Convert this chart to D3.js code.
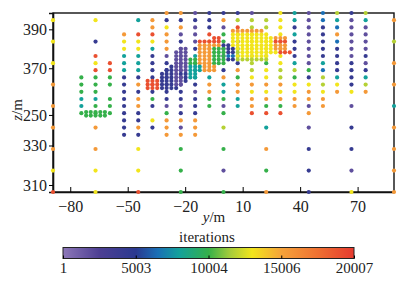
<!DOCTYPE html>
<html>
<head>
<meta charset="utf-8">
<script src="https://cdn.jsdelivr.net/npm/d3@7"></script>
<style>
  body { margin: 0; background: #fff; }
  text { font-family: "Liberation Serif", "DejaVu Serif", serif; fill: #222; }
</style>
</head>
<body>
<div id="chart"></div>
<script>
// search grid: horizontal positions y (m), left to right
const yCols = [-89.0, -81.6, -74.2, -66.8, -59.3, -51.9, -44.5, -37.1, -29.7, -22.3, -14.8, -7.4, 0.0,
               7.4, 14.8, 22.3, 29.7, 37.1, 44.5, 51.9, 59.3, 66.8, 74.2, 81.6, 89.0]
// heights z (m), top to bottom
const zRows = [398.4, 394.7, 391.0, 387.4, 383.7, 380.0, 376.3, 372.6, 369.0, 365.3, 361.6, 357.9, 354.2,
               350.6, 346.9, 343.2, 339.5, 335.8, 332.2, 328.5, 324.8, 321.1, 317.4, 313.8, 310.1, 306.4]
// iteration class of each evaluated grid node, '.' = not evaluated (rows top to bottom)
const gridCodes = [
    "........oopbbbp.Ytplyby..",
    "Y..Y..tobbbboyyyYtpltpt.o",
    ".......oYopbpryyYbpblpp..",
    ".....orropprgoYYYtpbopp..",
    "Y..b.YYYobpogbYYrbpblpp.y",
    ".....YYtopbobgYYobpbbpp..",
    "...r.ttbpptobgyyYbpbbpb..",
    "Y..YrttbbpgogbygYtptbbp.o",
    "...rrttbbptoboyYyyglbbb..",
    "..gggbbbpbttogYYygbytbt..",
    "o.gggborbpbotooooYYyYby.o",
    "..gg.bbbbbpotoYYYYoYoYo..",
    "..ttgbogbbbggtoooooo.....",
    "o.tggbobppbgptoggopo.p..t",
    "..gggbb.gbb.g.rrr.o......",
    ".....bbYooo..............",
    "o..o.bobopo.y..t..p..b..o",
    ".....bb.ooo..............",
    ".........................",
    "o..o..Y..g..g..o..b..b..o",
    ".........................",
    ".........................",
    "Y..Y..Y..g..p..g..b..p..o",
    ".........................",
    ".........................",
    "r..Y..r..g..g..o..b..Y..o"
]

// refined search along the optimum path
const fineY = [-44.5, -42.0, -39.6, -37.1, -34.6, -32.1, -29.7, -27.2, -24.7, -22.3, -19.8, -17.3, -14.8,
               -12.4, -9.9, -7.4, -4.9, -2.5, 0.0, 2.5, 4.9, 7.4, 9.9, 12.4, 14.8, 17.3, 19.8, 22.3,
               24.7, 27.2, 29.7, 32.1, 34.6]
const fineZ = [391.0, 389.2, 387.3, 385.5, 383.7, 381.8, 380.0, 378.2, 376.3, 374.5, 372.6, 370.8, 369.0,
               367.1, 365.3, 363.5, 361.6, 359.8, 357.9]
const fineCodes = [
    ".................................",
    "....................ooooooo......",
    "....................YYYYYYY......",
    "................rr..YYYYYYYYYooo.",
    ".............rrrrr..YYYYYYYYYrrr.",
    ".............ooooobbYYYYYYYYYooo.",
    ".........pp..ooogggbbYYYYYYYYooo.",
    "........ppp..ooogggbbyYYYYYYYYrrr.",
    "........ppp..ooogggllYYYYYYY......",
    "........pppggooogggbbyyyyyyy......",
    "........pppggooogg...............",
    ".......bppptttooo................",
    "......bbppptttooo................",
    ".....bbbpbbtt....................",
    ".....bbbppbtt....................",
    "..rrrbbbppb......................",
    "..rrrbbbpp.......................",
    "..rrrbbbb........................",
    "................................."
]

// small refined patch on the left
const patchY = [-71.7, -69.3, -66.8, -64.3, -61.9]
const patchZ = [347.5, 345.7]
const patchCodes = ["ggggg", "ggggg"]

// estimated iterations per class
const codeIters = {p: 1800, b: 4200, l: 6500, t: 8000, g: 10000, y: 11800, Y: 13000, o: 15500, r: 19000}

const yTicks = [-80, -50, -20, 10, 40, 70]
// tick marks sit where the original figure put them
const zTicks = [310, 330.3, 346, 370, 390]
const zTickLabels = ["310", "330", "250", "370", "390"]
const barTicks = [1, 5003, 10004, 15006, 20007]
const colorStops = [1, 2500, 5003, 6500, 8000, 10004, 11500, 13000, 15006, 17500, 20007]
const colorRange = ["#8d77b8", "#4d3f93", "#2b3990", "#1a6fb6", "#13a19b", "#35b04a",
                    "#a6cc3a", "#f2e51c", "#f5a33a", "#ef7132", "#e63a2f"]

const serif = '"Liberation Serif", "DejaVu Serif", serif'
const W = 409, H = 283
const svg = d3.select("#chart").append("svg")
    .attr("width", W)
    .attr("height", H)

const x = d3.scaleLinear().domain([-89, 89]).range([53, 394])
const z = d3.scaleLinear().domain([306.4, 398.4]).range([192, 13])
const color = d3.scaleLinear().domain(colorStops).range(colorRange)

// collect points from the code grids
function collect(cols, rows, codes) {
    let pts = []
    codes.forEach(function(line, i) {
        for (let j = 0; j < cols.length; j++) {
            let c = line[j]
            if (codeIters[c] !== undefined) {
                pts.push({y: cols[j], z: rows[i], it: codeIters[c]})
            }
        }
    })
    return pts
}

let points = collect(yCols, zRows, gridCodes)
    .concat(collect(patchY, patchZ, patchCodes))
    .concat(collect(fineY, fineZ, fineCodes))

// frame
svg.append("rect")
    .attr("x", x(-89)).attr("y", z(398.4))
    .attr("width", x(89) - x(-89)).attr("height", z(306.4) - z(398.4))
    .attr("fill", "none").attr("stroke", "#111").attr("stroke-width", 1.4)

// axes
let xAxis = d3.axisBottom(x).tickValues(yTicks).tickSizeInner(-5).tickSizeOuter(0).tickPadding(9)
let gx = svg.append("g").attr("transform", "translate(0,192)").call(xAxis)
    .attr("font-family", serif).attr("font-size", 16)
gx.select(".domain").attr("stroke", "#111").attr("stroke-width", 1.6)

let zAxis = d3.axisLeft(z).tickValues(zTicks).tickSize(4).tickPadding(2)
    .tickFormat(function(d, i) { return zTickLabels[i] })
let gz = svg.append("g").attr("transform", "translate(53,0)").call(zAxis)
    .attr("font-family", serif).attr("font-size", 16)
gz.select(".domain").attr("stroke", "#111").attr("stroke-width", 1.6)
svg.selectAll(".tick text").attr("fill", "#222")

// points
svg.append("g").selectAll("circle")
    .data(points)
    .enter().append("circle")
    .attr("cx", d => x(d.y))
    .attr("cy", d => z(d.z))
    .attr("r", 2.1)
    .attr("fill", d => color(d.it))

// axis titles
let xt = svg.append("text").attr("x", 214).attr("y", 222).attr("text-anchor", "middle").attr("font-size", 15)
xt.append("tspan").attr("font-style", "italic").text("y")
xt.append("tspan").text("/m")
let zt = svg.append("text").attr("transform", "translate(22,110) rotate(-90)")
    .attr("text-anchor", "middle").attr("font-size", 15)
zt.append("tspan").attr("font-style", "italic").text("z")
zt.append("tspan").text("/m")

// colorbar
const bar = d3.scaleLinear().domain([1, 20007]).range([63, 354])
let grad = svg.append("defs").append("linearGradient").attr("id", "cb")
grad.selectAll("stop").data(colorStops).enter().append("stop")
    .attr("offset", d => (d - 1) / 20006)
    .attr("stop-color", d => color(d))
svg.append("rect").attr("x", 63).attr("y", 247.5).attr("width", 291).attr("height", 11)
    .attr("fill", "url(#cb)").attr("stroke", "#222").attr("stroke-width", 1)
let gb = svg.append("g").attr("transform", "translate(0,258.5)")
    .call(d3.axisBottom(bar).tickValues(barTicks).tickSizeInner(-3).tickSizeOuter(0).tickPadding(4).tickFormat(d3.format("d")))
    .attr("font-family", serif).attr("font-size", 15)
gb.select(".domain").remove()
gb.selectAll("text").attr("fill", "#222")
svg.append("text").attr("x", 207).attr("y", 242).attr("text-anchor", "middle")
    .attr("font-size", 15).text("iterations")
</script>
</body>
</html>
